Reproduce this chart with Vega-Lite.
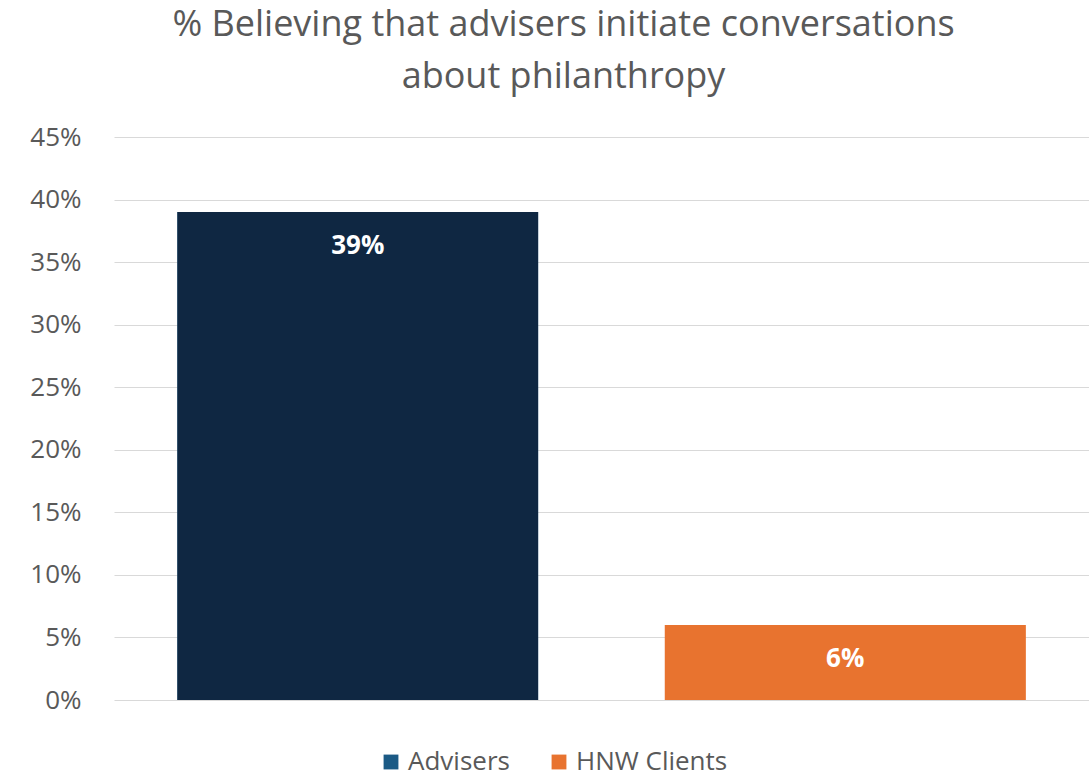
{
  "$schema": "https://vega.github.io/schema/vega-lite/v6.json",
  "width": 975,
  "height": 563,
  "autosize": {"type": "none"},
  "padding": {"left": 114, "top": 137, "right": 0, "bottom": 78},
  "background": "white",
  "config": {
    "font": "Open Sans",
    "view": {"stroke": null}
  },
  "title": {
    "text": "% Believing that advisers initiate conversations",
    "subtitle": "about philanthropy",
    "fontSize": 36,
    "fontWeight": "normal",
    "color": "#595959",
    "subtitleFontSize": 36,
    "subtitleColor": "#595959",
    "subtitleFont": "Open Sans",
    "subtitleFontWeight": "normal",
    "subtitlePadding": 16,
    "anchor": "middle",
    "dx": -38,
    "offset": 28
  },
  "data": {
    "values": [
      {"group": "Advisers", "value": 0.39},
      {"group": "HNW Clients", "value": 0.06}
    ]
  },
  "encoding": {
    "x": {
      "field": "group",
      "type": "nominal",
      "sort": ["Advisers", "HNW Clients"],
      "scale": {"paddingInner": 0.26, "paddingOuter": 0.13},
      "axis": null
    },
    "y": {
      "field": "value",
      "type": "quantitative",
      "scale": {"domain": [0, 0.45], "nice": false},
      "axis": {
        "title": null,
        "format": ".0%",
        "values": [0, 0.05, 0.1, 0.15, 0.2, 0.25, 0.3, 0.35, 0.4, 0.45],
        "domain": false,
        "ticks": false,
        "labelFontSize": 26,
        "labelColor": "#595959",
        "labelPadding": 33,
        "gridColor": "#d9d9d9",
        "gridWidth": 1
      }
    }
  },
  "layer": [
    {
      "mark": {"type": "bar"},
      "encoding": {
        "color": {
          "field": "group",
          "type": "nominal",
          "scale": {"domain": ["Advisers", "HNW Clients"], "range": ["#1b5a85", "#e8732f"]},
          "legend": {
            "title": null,
            "orient": "none",
            "direction": "horizontal",
            "legendX": 264,
            "legendY": 612,
            "symbolType": "square",
            "symbolSize": 220,
            "symbolStrokeWidth": 0,
            "labelFontSize": 26,
            "labelColor": "#595959",
            "labelOffset": 4,
            "columnPadding": 36
          }
        }
      }
    },
    {
      "mark": {"type": "bar"},
      "encoding": {
        "fill": {
          "condition": {"test": "datum.group === 'Advisers'", "value": "#0f2742"},
          "value": "#e8732f"
        }
      }
    },
    {
      "mark": {"type": "text", "color": "white", "fontSize": 26, "fontWeight": "bold", "dy": 34, "baseline": "middle"},
      "encoding": {
        "text": {"field": "value", "type": "quantitative", "format": ".0%"}
      }
    }
  ]
}
